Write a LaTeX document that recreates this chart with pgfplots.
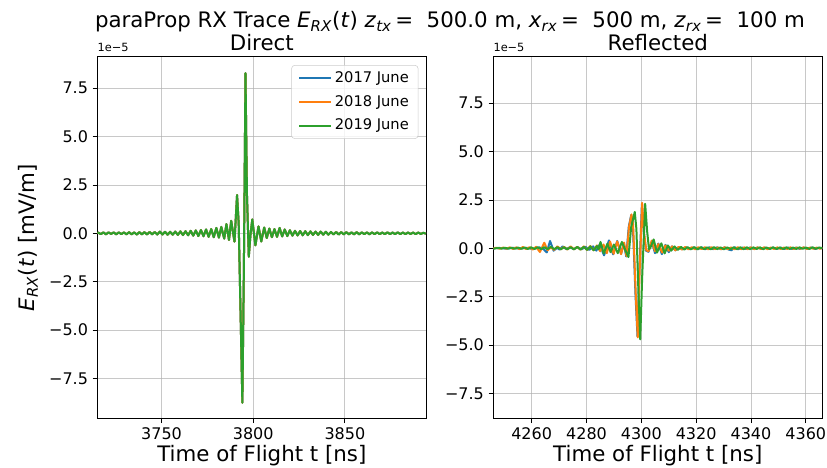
\documentclass[border=0pt]{standalone}
\usepackage{fontspec}
\setmainfont{DejaVu Sans}
\usepackage{pgfplots}
\pgfplotsset{compat=1.18}
\usepackage{pgfplotstable}
\definecolor{tabblue}{HTML}{1F77B4}
\definecolor{taborange}{HTML}{FF7F0E}
\definecolor{tabgreen}{HTML}{2CA02C}
\definecolor{gridgray}{HTML}{B0B0B0}

\pgfplotstableread{
t v
3715.0 0.00
3715.5 0.04
3716.9 -0.04
3718.3 0.05
3719.7 -0.05
3721.1 0.05
3722.5 -0.03
3723.9 0.05
3725.3 -0.05
3726.7 0.05
3728.1 -0.04
3729.5 0.05
3730.9 -0.05
3732.3 0.06
3733.7 -0.05
3735.1 0.05
3736.5 -0.06
3737.9 0.06
3739.3 -0.05
3740.7 0.06
3742.1 -0.06
3743.5 0.07
3744.9 -0.05
3746.3 0.07
3747.7 -0.06
3749.1 0.09
3750.5 -0.06
3751.9 0.08
3753.3 -0.07
3754.7 0.08
3756.1 -0.07
3757.5 0.09
3758.9 -0.08
3760.3 0.10
3761.7 -0.09
3763.1 0.11
3764.5 -0.10
3765.9 0.13
3767.3 -0.12
3768.7 0.15
3770.1 -0.14
3771.5 0.17
3772.9 -0.15
3774.3 0.20
3775.7 -0.18
3777.1 0.22
3778.5 -0.20
3779.9 0.28
3781.3 -0.22
3782.6 0.33
3784.2 -0.27
3785.4 0.48
3786.8 -0.34
3788.0 0.65
3789.8 -0.43
3791.2 1.98
3792.1 0.50
3793.3 -5.00
3794.1 -8.76
3794.9 -2.00
3795.8 8.28
3796.6 2.00
3797.6 -1.21
3798.5 -0.10
3799.5 0.72
3801.2 -0.62
3802.9 0.36
3804.4 -0.42
3806.0 0.30
3807.4 -0.24
3808.8 0.25
3810.2 -0.20
3811.6 0.22
3813.0 -0.18
3814.4 0.28
3815.8 -0.16
3817.2 0.20
3818.6 -0.14
3820.0 0.16
3821.4 -0.12
3822.8 0.13
3824.2 -0.11
3825.6 0.12
3827.0 -0.10
3828.4 0.11
3829.8 -0.09
3831.2 0.10
3832.6 -0.08
3834.0 0.09
3835.4 -0.08
3836.8 0.09
3838.2 -0.07
3839.6 0.08
3841.0 -0.07
3842.4 0.07
3843.8 -0.06
3845.2 0.07
3846.6 -0.06
3848.0 0.06
3849.4 -0.05
3850.8 0.06
3852.2 -0.05
3853.6 0.05
3855.0 -0.05
3856.4 0.06
3857.8 -0.05
3859.2 0.05
3860.6 -0.04
3862.0 0.05
3863.4 -0.05
3864.8 0.05
3866.2 -0.04
3867.6 0.05
3869.0 -0.04
3870.4 0.04
3871.8 -0.04
3873.2 0.05
3874.6 -0.04
3876.0 0.04
3877.4 -0.04
3878.8 0.05
3880.2 -0.04
3881.6 0.04
3883.0 -0.04
3884.4 0.04
3885.8 -0.03
3887.2 0.04
3888.6 -0.04
3890.0 0.04
3891.4 -0.03
3892.8 0.03
3894.2 -0.02
}\directdata

\pgfplotstableread{
t v
4246.0 0.00
4248.4 0.02
4250.8 -0.02
4253.2 0.03
4255.6 -0.02
4258.0 0.03
4260.4 -0.03
4262.8 0.05
4264.4 -0.05
4265.5 -0.21
4266.7 0.38
4268.0 -0.12
4269.2 0.02
4270.2 -0.06
4271.3 0.10
4272.6 -0.04
4274.0 0.06
4275.4 -0.04
4276.8 0.06
4278.2 -0.05
4279.6 0.08
4281.0 -0.08
4282.4 0.10
4283.6 -0.12
4284.8 0.20
4286.4 -0.36
4288.2 0.41
4289.7 -0.31
4291.2 0.38
4292.6 -0.28
4293.6 0.25
4294.5 -0.42
4295.4 1.10
4296.3 1.72
4296.9 1.20
4297.9 -2.50
4298.6 -4.55
4299.2 -1.50
4300.2 2.30
4300.9 0.80
4301.7 -0.12
4302.6 -0.18
4303.8 0.35
4305.0 -0.25
4306.2 0.25
4307.5 -0.30
4308.8 0.18
4310.0 -0.20
4311.2 0.10
4312.4 -0.10
4313.6 0.06
4315.0 -0.05
4316.4 0.05
4317.8 -0.04
4319.2 0.05
4320.6 -0.04
4322.0 0.05
4323.4 -0.04
4324.8 0.05
4326.2 -0.04
4327.6 0.05
4329.0 -0.04
4330.4 0.05
4331.8 -0.06
4332.9 -0.10
4334.0 0.06
4335.4 -0.04
4336.8 0.04
4338.2 -0.03
4339.6 0.04
4341.0 -0.03
4342.4 0.04
4343.8 -0.03
4345.2 0.04
4346.6 -0.03
4348.0 0.04
4349.4 -0.03
4350.8 0.04
4352.2 -0.03
4353.6 0.04
4355.0 -0.03
4356.4 0.04
4357.8 -0.03
4359.2 0.04
4360.6 -0.03
4362.0 0.04
4363.4 -0.03
4364.8 0.03
4366.0 0.00
}\reflA

\pgfplotstableread{
t v
4246.0 0.00
4247.2 0.03
4248.4 -0.02
4249.6 0.04
4250.8 -0.02
4252.0 0.05
4253.2 -0.03
4254.4 0.05
4255.6 -0.04
4256.8 0.07
4258.0 -0.04
4259.2 0.06
4260.4 -0.06
4261.6 0.08
4263.0 -0.19
4264.6 0.29
4265.8 -0.10
4267.0 0.05
4268.2 -0.08
4269.4 0.10
4270.6 -0.05
4271.8 0.08
4273.0 -0.06
4274.2 0.10
4275.4 -0.05
4276.6 0.08
4277.8 -0.07
4279.0 0.10
4280.2 -0.08
4281.4 0.12
4282.6 -0.10
4283.8 0.15
4285.0 -0.15
4286.2 0.20
4287.4 -0.25
4288.6 0.35
4289.9 -0.28
4291.2 0.36
4292.6 -0.30
4293.7 0.30
4294.6 -0.40
4295.5 1.10
4296.4 1.75
4297.0 1.20
4298.0 -2.50
4298.7 -4.60
4299.3 -1.50
4300.3 2.35
4301.0 0.80
4301.8 -0.10
4302.6 -0.15
4303.8 0.40
4305.0 -0.15
4306.2 0.22
4307.6 -0.22
4308.8 0.15
4310.0 -0.12
4311.2 0.10
4312.4 -0.10
4313.6 0.08
4314.8 -0.06
4316.0 0.07
4317.2 -0.05
4318.4 0.06
4319.6 -0.05
4320.8 0.06
4322.0 -0.04
4323.2 0.06
4324.4 -0.05
4325.6 0.06
4326.8 -0.04
4328.0 0.05
4329.2 -0.05
4330.4 0.06
4331.6 -0.04
4332.8 0.05
4334.0 -0.05
4335.2 0.06
4336.4 -0.04
4337.6 0.05
4338.8 -0.04
4340.0 0.05
4341.2 -0.04
4342.4 0.05
4343.6 -0.03
4344.8 0.05
4346.0 -0.04
4347.2 0.04
4348.4 -0.03
4349.6 0.05
4350.8 -0.03
4352.0 0.04
4353.2 -0.03
4354.4 0.05
4355.6 -0.03
4356.8 0.04
4358.0 -0.02
4359.2 0.05
4360.4 -0.03
4361.6 0.04
4362.8 -0.02
4364.0 0.04
4365.2 -0.02
4366.0 0.03
}\reflB

\pgfplotstableread{
t v
4246.0 -0.03
4246.6 0.00
4247.8 0.02
4249.0 -0.01
4250.2 0.03
4251.4 -0.01
4252.6 0.03
4253.8 -0.02
4255.0 0.04
4256.2 -0.02
4257.4 0.04
4258.6 -0.03
4259.8 0.05
4261.0 -0.03
4262.2 0.05
4263.4 -0.04
4264.6 0.06
4265.8 -0.04
4267.0 0.08
4268.2 -0.04
4269.4 0.06
4270.6 -0.05
4271.8 0.06
4273.0 -0.05
4274.2 0.06
4275.4 -0.05
4276.6 0.07
4277.8 -0.06
4279.0 0.08
4280.2 -0.08
4281.4 0.10
4282.6 -0.10
4283.8 0.12
4284.4 -0.05
4285.1 0.33
4286.3 -0.26
4287.6 0.24
4288.8 -0.20
4290.0 0.20
4291.4 -0.25
4292.9 0.33
4294.2 -0.10
4295.3 -0.45
4296.3 1.10
4297.6 1.88
4298.2 1.00
4299.0 -2.50
4299.6 -4.70
4300.3 -1.50
4301.4 2.30
4302.1 0.90
4302.8 -0.05
4303.5 0.10
4304.5 0.46
4305.7 -0.22
4307.3 0.26
4308.5 -0.26
4309.7 0.15
4310.9 -0.12
4312.1 0.10
4313.3 -0.08
4314.5 0.07
4315.7 -0.06
4316.9 0.06
4318.1 -0.05
4319.3 0.06
4320.5 -0.05
4321.7 0.06
4322.9 -0.04
4324.1 0.05
4325.3 -0.05
4326.5 0.06
4327.7 -0.04
4328.9 0.05
4330.1 -0.05
4331.3 0.05
4332.5 -0.04
4333.7 0.05
4334.9 -0.04
4336.1 0.05
4337.3 -0.04
4338.5 0.05
4339.7 -0.04
4340.9 0.05
4342.1 -0.03
4343.3 0.05
4344.5 -0.04
4345.7 0.04
4346.9 -0.03
4348.1 0.05
4349.3 -0.03
4350.5 0.04
4351.7 -0.03
4352.9 0.05
4354.1 -0.03
4355.3 0.04
4356.5 -0.03
4357.7 0.05
4358.9 -0.02
4360.1 0.04
4361.3 -0.03
4362.5 0.05
4363.7 -0.02
4364.9 0.04
4366.0 0.01
}\reflC

\pgfplotsset{
  every axis title shift=0pt,
  base/.style={
    scale only axis,
    width=246.75pt, height=271.35pt,
    clip mode=individual,
    grid=major,
    grid style={color=gridgray, line width=0.6pt, opacity=0.7},
    axis line style={black, line width=0.6pt},
    tick align=outside,
    major tick length=3.5pt,
    tick style={black, line width=0.6pt},
    xtick pos=bottom, ytick pos=left,
    ticklabel style={font=\fontsize{12}{14}\selectfont},
    title style={font=\fontsize{16}{19}\selectfont, at={(axis description cs:0.5,1)}, anchor=base, yshift=4.3pt},
    xlabel style={font=\fontsize{16}{19}\selectfont, at={(axis description cs:0.5,0)}, anchor=base, yshift=-32.5pt},
    ytick={-7.5,-5,-2.5,0,2.5,5,7.5},
    yticklabels={−7.5,−5.0,−2.5,0.0,2.5,5.0,7.5},
    scaled ticks=false,
    xlabel={Time of Flight t [ns]},
    every axis plot/.append style={line width=1.5pt, line join=round},
  }
}

\begin{document}
\begin{tikzpicture}
\useasboundingbox (-73pt,-36.4pt) rectangle (547.3pt,313.9pt);
\begin{axis}[base,
  at={(0pt,0pt)}, anchor=south west,
  xmin=3715, xmax=3894.4, ymin=-9.57, ymax=9.13,
  xtick={3750,3800,3850}, xticklabels={3750,3800,3850},
  title={Direct},
  ylabel={\textit{E}\textsubscript{\textit{RX}}(\textit{t}) [mV/m]},
  ylabel style={font=\fontsize{16}{19}\selectfont, at={(axis description cs:0,0.5)}, anchor=south, yshift=41pt},
  legend style={at={(rel axis cs:0.976,0.977)}, anchor=north east,
    font=\fontsize{11}{13}\selectfont, draw=black!20, rounded corners=2.5pt,
    fill=white, fill opacity=0.8, text opacity=1, draw opacity=1,
    inner xsep=5pt, inner ysep=3pt, row sep=4pt},
  legend cell align=left,
  legend image code/.code={\draw[#1, line width=1.5pt] (0pt,0pt) -- (24pt,0pt);},
]
\addplot[tabblue] table[x=t,y=v] {\directdata};
\addlegendentry{2017 June}
\addplot[taborange] table[x=t,y=v] {\directdata};
\addlegendentry{2018 June}
\addplot[tabgreen] table[x=t,y=v] {\directdata};
\addlegendentry{2019 June}
\node[anchor=base west, font=\fontsize{8.5}{10}\selectfont, inner sep=0pt] at (rel axis cs:0,1) [yshift=4pt] {1e−5};
\end{axis}

\begin{axis}[base,
  at={(297pt,0pt)}, anchor=south west,
  xmin=4246, xmax=4366, ymin=-8.79, ymax=9.9,
  xtick={4260,4280,4300,4320,4340,4360},
  xticklabels={4260,4280,4300,4320,4340,4360},
  title={Reflected},
]
\addplot[tabblue] table[x=t,y=v] {\reflA};
\addplot[taborange] table[x=t,y=v] {\reflB};
\addplot[tabgreen] table[x=t,y=v] {\reflC};
\node[anchor=base west, font=\fontsize{8.5}{10}\selectfont, inner sep=0pt] at (rel axis cs:0,1) [yshift=4pt] {1e−5};
\end{axis}

\node[anchor=base, font=\fontsize{16}{19}\selectfont, inner sep=0pt] at (264.5pt,292.9pt)
  {paraProp RX Trace \textit{E}\textsubscript{\textit{RX}}(\textit{t}) \textit{z}\textsubscript{\textit{tx}}\,=\ \ 500.0 m, \textit{x}\textsubscript{\textit{rx}}\,=\ \ 500 m, \textit{z}\textsubscript{\textit{rx}}\,=\ \ 100 m};
\end{tikzpicture}
\end{document}
